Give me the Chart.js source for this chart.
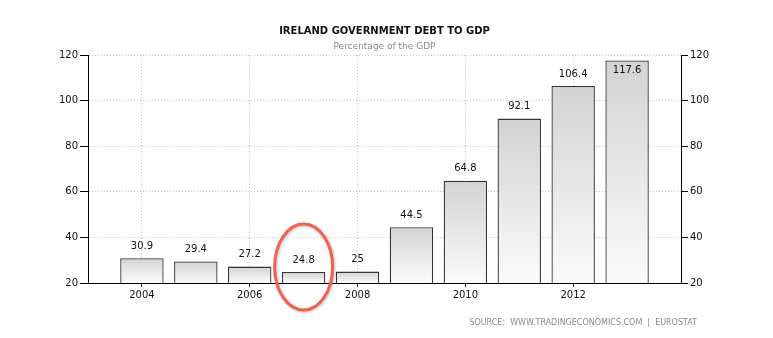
<!DOCTYPE html>
<html>
<head>
<meta charset="utf-8">
<script src="https://cdn.jsdelivr.net/npm/chart.js@4/dist/chart.umd.min.js"></script>
<style>
  html, body { margin: 0; padding: 0; background: #fff; }
  #wrap { width: 773px; height: 338px; position: relative; }
</style>
</head>
<body>
<div id="wrap"><canvas id="debtChart"></canvas></div>
<script>
// Ireland government debt, % of GDP
const years = [2004, 2005, 2006, 2007, 2008, 2009, 2010, 2011, 2012, 2013];
const debt = [30.9, 29.4, 27.2, 24.8, 25, 44.5, 64.8, 92.1, 106.4, 117.6];
const yTicks = [20, 40, 60, 80, 100, 120];
const xTickYears = [2004, 2006, 2008, 2010, 2012];
const markedYear = 2007;

const FONT = "'DejaVu Sans', Verdana, sans-serif";

// each bar gets its own top-to-bottom grey fade
function barGradient(c) {
  const chart = c.chart;
  const y = chart.scales.y;
  if (c.type !== 'data' || !y) return '#e4e4e4';
  const top = y.getPixelForValue(c.raw.y);
  const bottom = y.getPixelForValue(yTicks[0]);
  if (!isFinite(top) || !isFinite(bottom) || top === bottom) return '#e4e4e4';
  const g = chart.ctx.createLinearGradient(0, top, 0, bottom);
  g.addColorStop(0, '#d3d3d3');
  g.addColorStop(1, '#fbfbfb');
  return g;
}

// titles, value labels, source line and the red ring
const decorations = {
  id: 'decorations',
  afterDatasetsDraw(chart) {
    const ctx = chart.ctx;
    const meta = chart.getDatasetMeta(0);
    ctx.save();
    ctx.font = '10px ' + FONT;
    ctx.fillStyle = '#111';
    ctx.textAlign = 'center';
    ctx.textBaseline = 'middle';
    meta.data.forEach((bar, i) => {
      const v = debt[i];
      const ty = v > 110 ? bar.y + 10 : bar.y - 12;
      ctx.fillText(String(v), bar.x, ty);
    });
    ctx.restore();
  },
  afterDraw(chart) {
    const ctx = chart.ctx;
    const cx = (chart.chartArea.left + chart.chartArea.right) / 2;
    ctx.save();
    ctx.textAlign = 'center';
    ctx.textBaseline = 'middle';
    ctx.fillStyle = '#111';
    ctx.font = 'bold 10px ' + FONT;
    ctx.fillText('IRELAND GOVERNMENT DEBT TO GDP', cx, 31);
    ctx.fillStyle = '#8a8a8a';
    ctx.font = '9px ' + FONT;
    ctx.fillText('Percentage of the GDP', cx, 47);

    ctx.textAlign = 'right';
    ctx.font = '8px ' + FONT;
    ctx.fillText('SOURCE:  WWW.TRADINGECONOMICS.COM  |  EUROSTAT', 697, 323);

    // ring around the 2007 bar
    const x = chart.scales.x.getPixelForValue(markedYear);
    const y = chart.scales.y.getPixelForValue(yTicks[0]) - 16;
    ctx.shadowColor = 'rgba(0,0,0,0.25)';
    ctx.shadowBlur = 3;
    ctx.shadowOffsetX = 1;
    ctx.shadowOffsetY = 1;
    ctx.strokeStyle = '#f2604f';
    ctx.lineWidth = 3;
    ctx.beginPath();
    ctx.ellipse(x, y, 29, 43, 0, 0, Math.PI * 2);
    ctx.stroke();
    ctx.restore();
  }
};

const isEvenTick = (v) => xTickYears.includes(v);

new Chart(document.getElementById('debtChart'), {
  type: 'bar',
  data: {
    datasets: [{
      label: 'Debt to GDP',
      data: years.map((yr, i) => ({ x: yr, y: debt[i] })),
      backgroundColor: barGradient,
      borderColor: '#333',
      borderWidth: 1.3,
      borderSkipped: 'bottom',
      barPercentage: 0.805,
      categoryPercentage: 1
    }]
  },
  options: {
    responsive: true,
    maintainAspectRatio: false,
    animation: false,
    layout: { padding: { top: 55, left: 0, right: 0, bottom: 0 } },
    plugins: {
      legend: { display: false },
      tooltip: { enabled: false }
    },
    scales: {
      x: {
        type: 'linear',
        offset: false,
        min: years[0] - 1,
        max: years[years.length - 1] + 1,
        afterFit: (s) => { s.height = 55; },
        afterBuildTicks: (s) => {
          s.ticks = [];
          for (let v = s.min; v <= s.max; v++) s.ticks.push({ value: v });
        },
        ticks: {
          autoSkip: false,
          maxRotation: 0,
          padding: 2,
          color: '#111',
          font: { family: FONT, size: 10 },
          callback: (v) => isEvenTick(v) ? String(v) : ''
        },
        grid: {
          offset: false,
          color: (c) => c.tick && isEvenTick(c.tick.value) ? '#c8c8c8' : 'rgba(0,0,0,0)',
          tickColor: (c) => c.tick && isEvenTick(c.tick.value) ? '#000' : 'rgba(0,0,0,0)',
          tickLength: 4,
          lineWidth: 1
        },
        border: { display: true, color: '#000', width: 1, dash: [1, 2] }
      },
      y: {
        position: 'left',
        min: yTicks[0],
        max: yTicks[yTicks.length - 1],
        afterFit: (s) => { s.width = 88; },
        afterBuildTicks: (s) => { s.ticks = yTicks.map(v => ({ value: v })); },
        ticks: {
          padding: 2,
          color: '#111',
          font: { family: FONT, size: 10 }
        },
        grid: {
          color: '#c8c8c8',
          tickColor: '#000',
          tickLength: 8,
          lineWidth: 1
        },
        border: { display: true, color: '#000', width: 1, dash: [1, 2] }
      },
      y2: {
        position: 'right',
        min: yTicks[0],
        max: yTicks[yTicks.length - 1],
        afterFit: (s) => { s.width = 92; },
        afterBuildTicks: (s) => { s.ticks = yTicks.map(v => ({ value: v })); },
        ticks: {
          padding: 2,
          color: '#111',
          font: { family: FONT, size: 10 }
        },
        grid: {
          drawOnChartArea: false,
          tickColor: '#000',
          tickLength: 7
        },
        border: { display: true, color: '#000', width: 1 }
      }
    }
  },
  plugins: [decorations]
});
</script>
</body>
</html>
